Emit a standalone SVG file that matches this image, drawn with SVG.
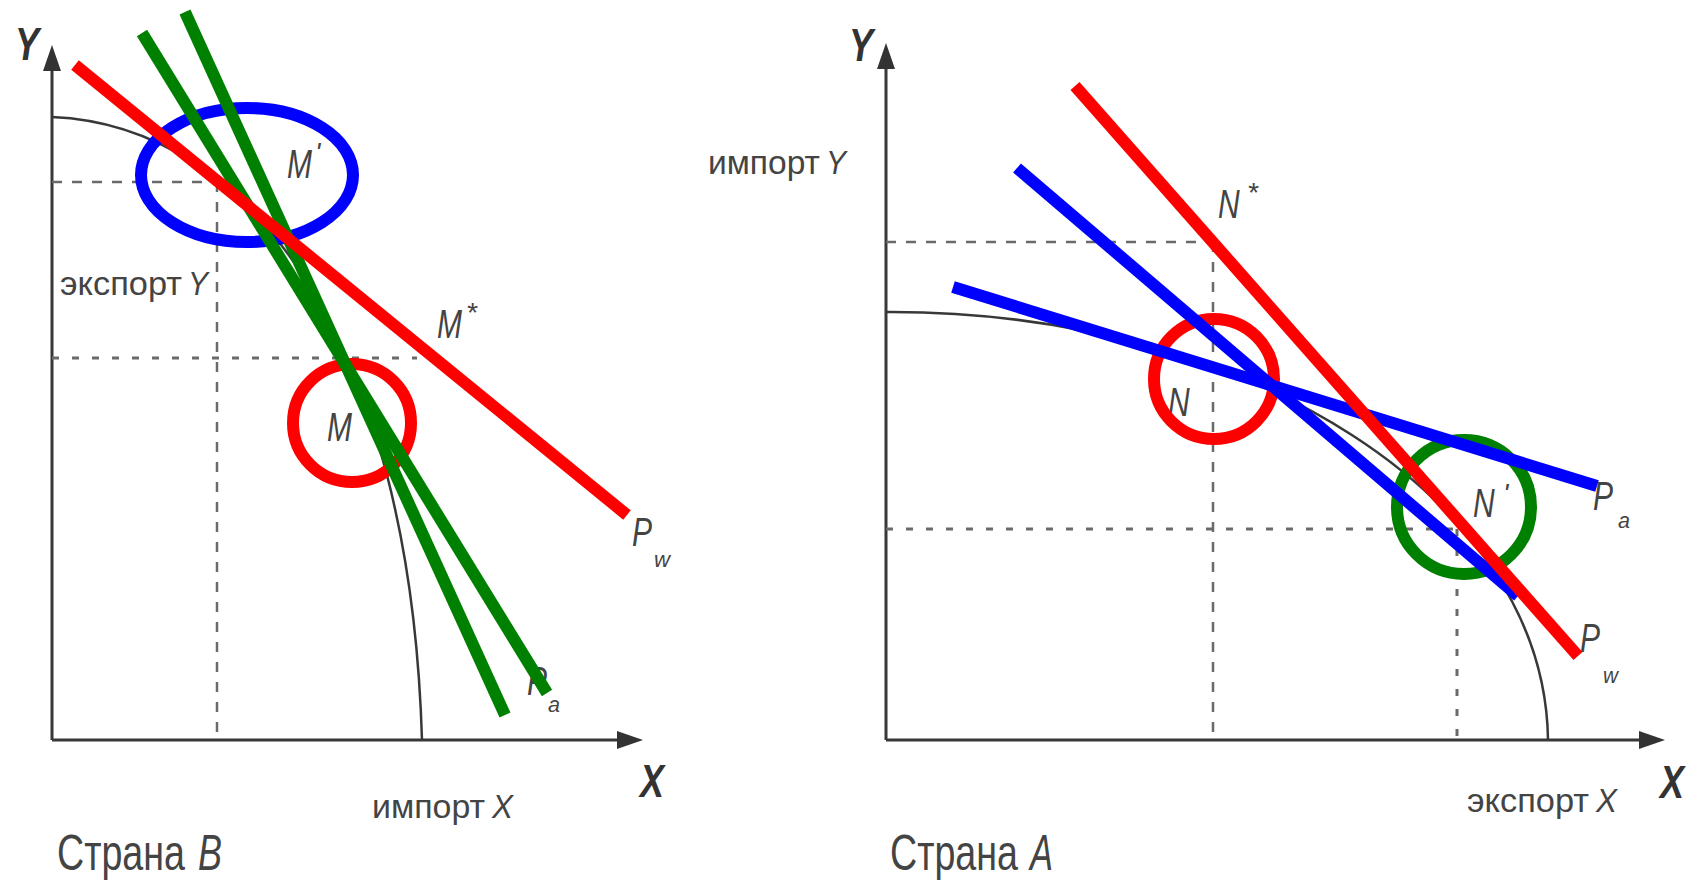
<svg xmlns="http://www.w3.org/2000/svg" width="1698" height="885" viewBox="0 0 1698 885">
<defs>
<marker id="arr" viewBox="0 0 26 18" refX="13" refY="9" markerWidth="26" markerHeight="18" markerUnits="userSpaceOnUse" orient="auto">
<path d="M0,0 L26,9 L0,18 z" fill="#333"/>
</marker>
</defs>
<style>
.axis{stroke:#383838;stroke-width:3;fill:none}
.ppf{stroke:#383838;stroke-width:2.5;fill:none}
.dash{stroke:#6a6a6a;stroke-width:2.5;stroke-dasharray:10 10;fill:none}
.dot{stroke:#6a6a6a;stroke-width:3;stroke-dasharray:7 13;fill:none}
.ln{stroke-width:12;fill:none;stroke-linecap:butt}
.red{stroke:#ff0000}
.blue{stroke:#0000ff}
.green{stroke:#008000}
.ring{stroke-width:12;fill:none}
text{font-family:"Liberation Sans",Arial,sans-serif;fill:#444444}
.ax{font-size:36px;font-style:italic;font-weight:bold;fill:#333}
.lbl{font-size:34px}
.cap{font-size:40px}
.pt{font-size:30px;font-style:italic}
.mk{font-size:28px;font-style:italic}
.sub{font-size:22px;font-style:italic}
.it{font-style:italic}
</style>
<rect x="0" y="0" width="1698" height="885" fill="#ffffff"/>

<g id="panel-B">
<g id="B-axes">
<line class="axis" x1="52" y1="740" x2="52" y2="58" marker-end="url(#arr)"/>
<line class="axis" x1="52" y1="740" x2="630" y2="740" marker-end="url(#arr)"/>
<text class="ax" x="15" y="60" transform="matrix(1,0,0,1.3,0,-18)">Y</text>
<text class="ax" x="640" y="797" transform="matrix(1,0,0,1.3,0,-239.1)">X</text>
</g>
<g id="B-guides">
<line class="dash" x1="52" y1="182" x2="217" y2="182"/>
<line class="dash" x1="217" y1="182" x2="217" y2="740"/>
<line class="dot" x1="52" y1="358" x2="417" y2="358"/>
</g>
<g id="B-labels">
<text class="lbl" x="60" y="295" textLength="122" lengthAdjust="spacingAndGlyphs">экспорт</text>
<text class="lbl it" x="188" y="295" textLength="20" lengthAdjust="spacingAndGlyphs">Y</text>
<text class="lbl" x="372" y="818" textLength="113" lengthAdjust="spacingAndGlyphs">импорт</text>
<text class="lbl it" x="492" y="818" textLength="21" lengthAdjust="spacingAndGlyphs">X</text>
<text class="cap" x="57" y="870" textLength="128" lengthAdjust="spacingAndGlyphs" transform="matrix(1,0,0,1.25,0,-217.5)">Страна</text>
<text class="cap it" x="198" y="870" textLength="24" lengthAdjust="spacingAndGlyphs" transform="matrix(1,0,0,1.25,0,-217.5)">B</text>
<text class="pt" x="287" y="178" transform="matrix(1,0,0,1.35,0,-62.3)">M</text>
<text class="mk" x="315" y="162">'</text>
<text class="pt" x="437" y="338" transform="matrix(1,0,0,1.35,0,-118.3)">M</text>
<text class="mk" x="466" y="322">*</text>
<text class="pt" x="327" y="441" transform="matrix(1,0,0,1.35,0,-154.35)">M</text>
<text class="pt" x="632" y="546" transform="matrix(1,0,0,1.35,0,-191.1)">P</text>
<text class="sub" x="654" y="567" textLength="16" lengthAdjust="spacingAndGlyphs">w</text>
<text class="pt" x="527" y="695" transform="matrix(1,0,0,1.35,0,-243.25)">P</text>
<text class="sub" x="548" y="712" textLength="12" lengthAdjust="spacingAndGlyphs">a</text>
</g>
<path id="B-ppf" class="ppf" d="M52,117 C250,125 410,340 422,740"/>
<g id="B-marks">
<ellipse class="ring blue" cx="247" cy="175" rx="106" ry="67"/>
<circle class="ring red" cx="352" cy="423" r="59"/>
</g>
<g id="B-connectors">
<line class="ln green" x1="142" y1="33" x2="547" y2="693"/>
<line class="ln green" x1="185" y1="12" x2="505" y2="715"/>
<line class="ln red" x1="75" y1="65" x2="627" y2="515"/>
</g>
</g>

<g id="panel-A">
<g id="A-axes">
<line class="axis" x1="886" y1="740" x2="886" y2="56" marker-end="url(#arr)"/>
<line class="axis" x1="886" y1="740" x2="1652" y2="740" marker-end="url(#arr)"/>
<text class="ax" x="849" y="61" transform="matrix(1,0,0,1.3,0,-18.3)">Y</text>
<text class="ax" x="1660" y="798" transform="matrix(1,0,0,1.3,0,-239.4)">X</text>
</g>
<g id="A-guides">
<line class="dash" x1="886" y1="242" x2="1213" y2="242"/>
<line class="dash" x1="1213" y1="242" x2="1213" y2="740"/>
<line class="dot" x1="886" y1="529" x2="1457" y2="529"/>
<line class="dot" x1="1457" y1="529" x2="1457" y2="740"/>
</g>
<g id="A-labels">
<text class="lbl" x="708" y="174" textLength="112" lengthAdjust="spacingAndGlyphs">импорт</text>
<text class="lbl it" x="826" y="174" textLength="20" lengthAdjust="spacingAndGlyphs">Y</text>
<text class="lbl" x="1467" y="812" textLength="122" lengthAdjust="spacingAndGlyphs">экспорт</text>
<text class="lbl it" x="1596" y="812" textLength="21" lengthAdjust="spacingAndGlyphs">X</text>
<text class="cap" x="890" y="870" textLength="128" lengthAdjust="spacingAndGlyphs" transform="matrix(1,0,0,1.25,0,-217.5)">Страна</text>
<text class="cap it" x="1030" y="870" textLength="23" lengthAdjust="spacingAndGlyphs" transform="matrix(1,0,0,1.25,0,-217.5)">A</text>
<text class="pt" x="1218" y="218" transform="matrix(1,0,0,1.35,0,-76.3)">N</text>
<text class="mk" x="1247" y="202">*</text>
<text class="pt" x="1168" y="416" transform="matrix(1,0,0,1.35,0,-145.6)">N</text>
<text class="pt" x="1473" y="517" transform="matrix(1,0,0,1.35,0,-180.95)">N</text>
<text class="mk" x="1503" y="503">'</text>
<text class="pt" x="1593" y="510" transform="matrix(1,0,0,1.35,0,-178.5)">P</text>
<text class="sub" x="1618" y="528" textLength="12" lengthAdjust="spacingAndGlyphs">a</text>
<text class="pt" x="1580" y="652" transform="matrix(1,0,0,1.35,0,-228.2)">P</text>
<text class="sub" x="1603" y="683" textLength="15" lengthAdjust="spacingAndGlyphs">w</text>
</g>
<path id="A-ppf" class="ppf" d="M885,312 C1250,310 1545,500 1548,740"/>
<g id="A-marks">
<circle class="ring red" cx="1214" cy="379" r="60"/>
<circle class="ring green" cx="1464" cy="507" r="67"/>
</g>
<g id="A-connectors">
<line class="ln blue" x1="953" y1="287" x2="1597" y2="486"/>
<line class="ln blue" x1="1017" y1="168" x2="1518" y2="596"/>
<line class="ln red" x1="1075" y1="86" x2="1578" y2="656"/>
</g>
</g>
</svg>
